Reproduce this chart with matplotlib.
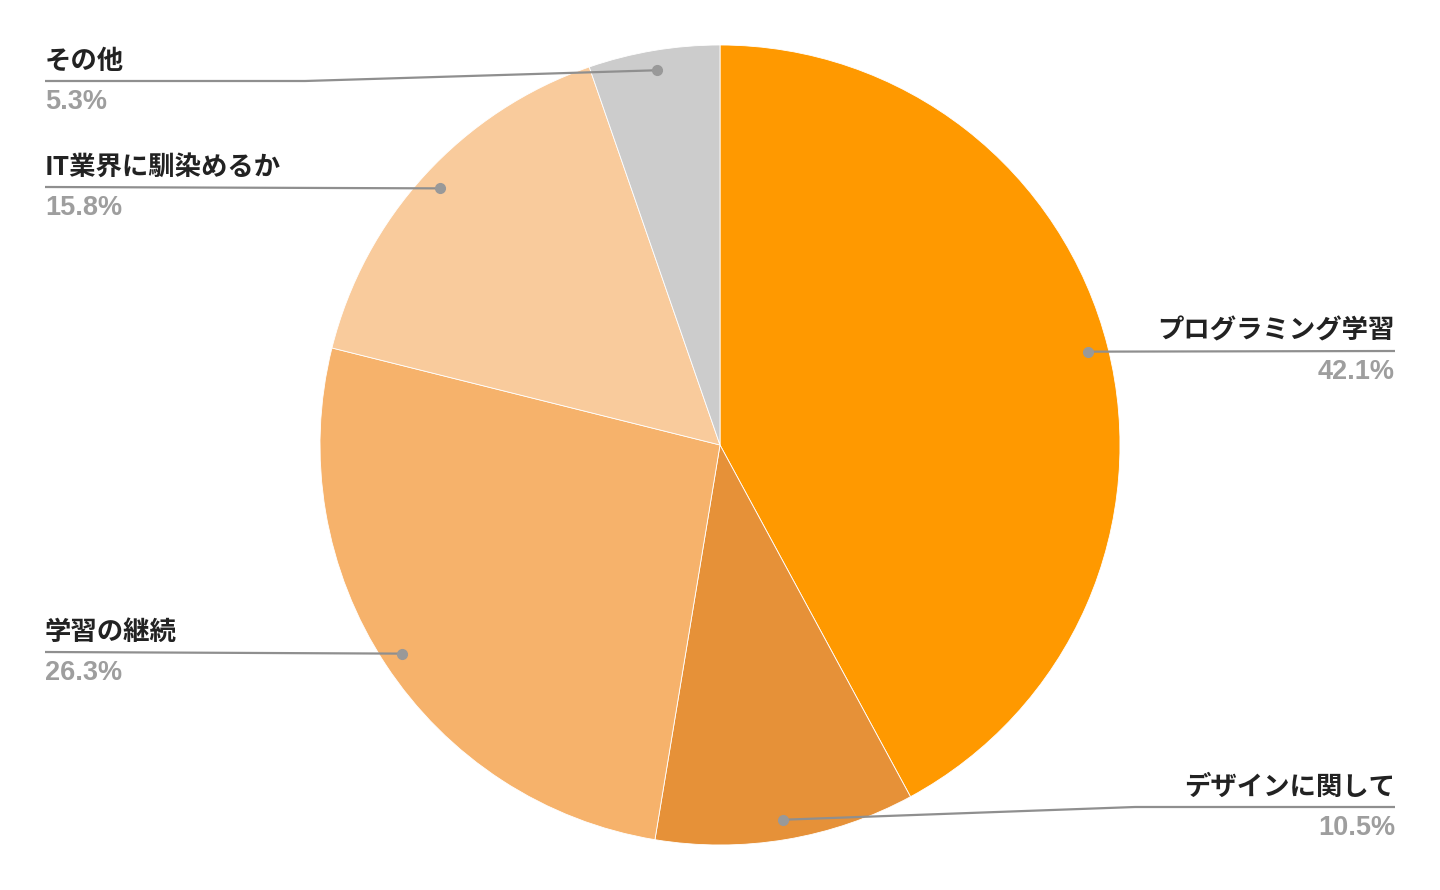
import numpy as np
import matplotlib.pyplot as plt

labels = ["プログラミング学習", "デザインに関して", "学習の継続", "IT業界に馴染めるか", "その他"]
values = [42.1, 10.5, 26.3, 15.8, 5.3]
colors = ["#ff9900", "#e69138", "#f6b26b", "#f9cb9c", "#cccccc"]

# layout (pixels, y measured from the top of the image)
W, H = 1440, 890
cx, cy, R = 720, 445, 400
# label side, text x, label-line y, elbow x (None = straight)
label_pos = [
    ("right", 1395, 351, None),
    ("right", 1395, 807, 1135),
    ("left", 45, 652, None),
    ("left", 45, 187, None),
    ("left", 45, 81, 305),
]

fig = plt.figure(figsize=(W / 100, H / 100), dpi=100)
ax = fig.add_axes([0, 0, 1, 1])

wedges, _ = ax.pie(values, colors=colors, startangle=90, counterclock=False,
                   center=(cx, H - cy), radius=R,
                   wedgeprops=dict(edgecolor="white", linewidth=0.6))
# pie resets the limits, so set them afterwards
ax.set_xlim(0, W)
ax.set_ylim(0, H)
ax.set_aspect("equal")
ax.axis("off")

jp = ["Noto Sans CJK JP", "DejaVu Sans"]
total = sum(values)
start = 90.0
for lab, val, (side, tx, ly, ex) in zip(labels, values, label_pos):
    span = val / total * 360
    mid = np.deg2rad(start - span / 2)
    start -= span
    px = cx + 0.95 * R * np.cos(mid)
    py = H - cy + 0.95 * R * np.sin(mid)
    y = H - ly
    if ex is None:
        xs, ys = [px, tx], [py, y]
    else:
        xs, ys = [px, ex, tx], [py, y, y]
    ax.plot(xs, ys, color="#8f8f8f", lw=1.6, solid_capstyle="butt", zorder=3)
    ax.plot(px, py, "o", color="#999999", ms=7, zorder=4)
    ha = "right" if side == "right" else "left"
    ax.text(tx, y + 20, lab, ha=ha, va="center", fontsize=19,
            fontweight="bold", color="#222222", family=jp)
    ax.text(tx, y - 21, f"{val:.1f}%", ha=ha, va="center", fontsize=19.5,
            fontweight="bold", color="#9e9e9e", family=["Liberation Sans", "DejaVu Sans"])

fig.savefig("out.png", dpi=100, facecolor="white")
